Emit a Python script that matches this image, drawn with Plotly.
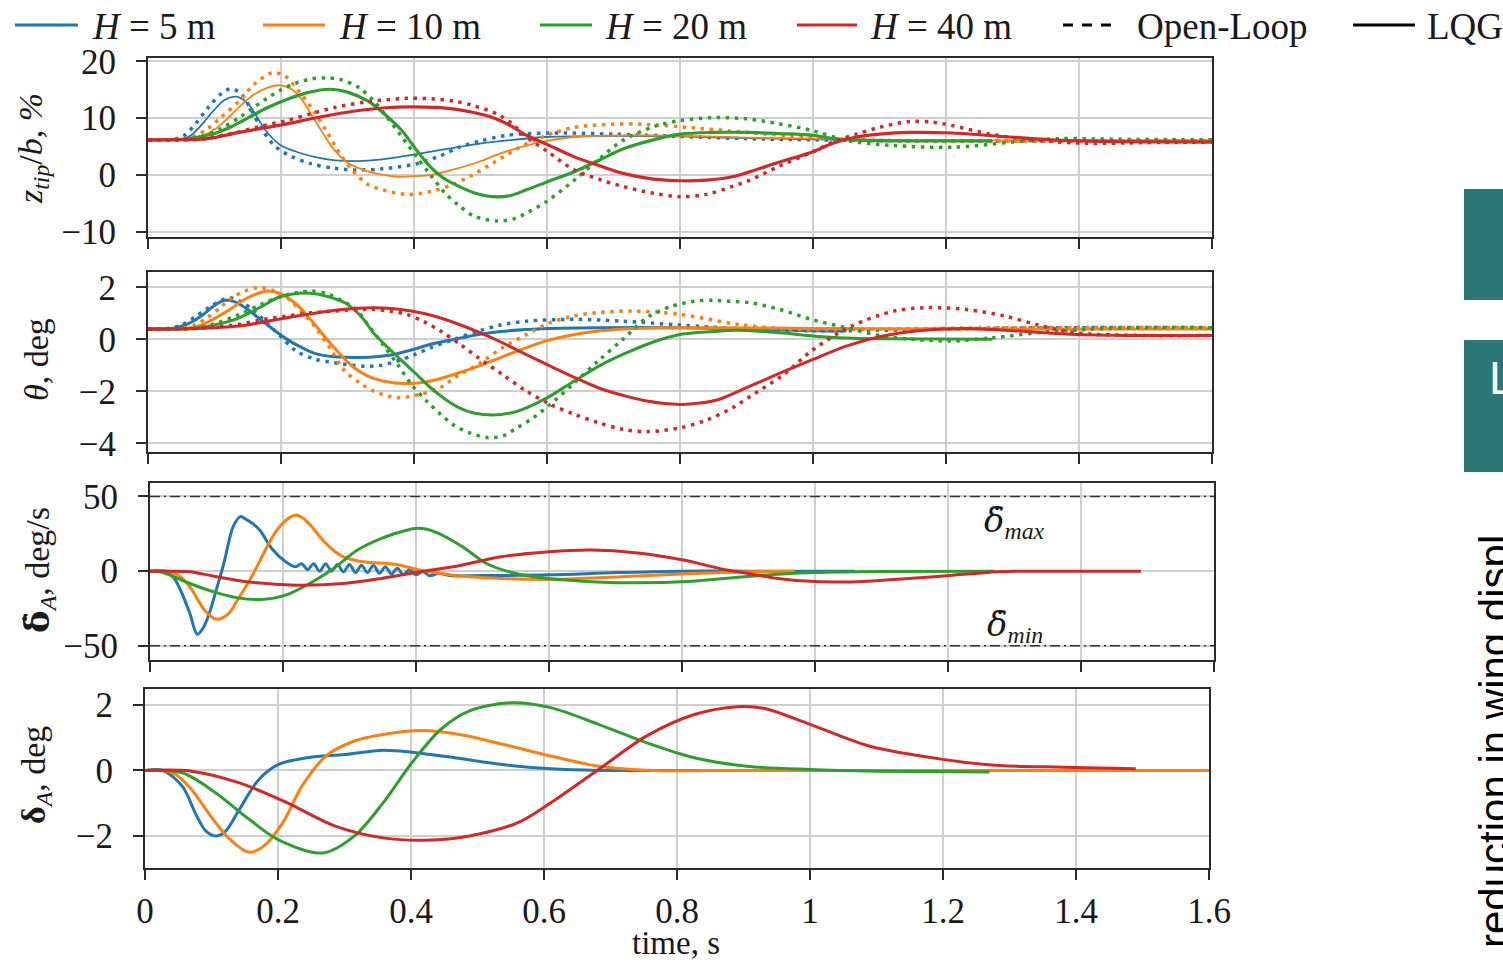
import plotly.graph_objects as go

W, H = 1503, 963

# ---------------- data ----------------
LABELS = ["H = 5 m", "H = 10 m", "H = 20 m", "H = 40 m"]
COLORS = ["#1f77b4", "#ff7f0e", "#2ca02c", "#d62728"]

# Panel 1: z_tip/b, %
T_Z5_LQG = [0, 0.04, 0.05, 0.065, 0.08, 0.1, 0.115, 0.133, 0.15, 0.166, 0.18, 0.2, 0.223, 0.25, 0.281, 0.324, 0.36, 0.404, 0.45, 0.497, 0.55, 0.598, 0.7, 0.8, 0.9, 1.0, 1.06]
Z5_LQG = [6.2, 6.2, 6.3, 7.0, 8.8, 11.5, 13.2, 13.8, 12.6, 9.8, 7.4, 5.2, 4.1, 3.2, 2.6, 2.5, 2.9, 3.7, 4.6, 5.5, 6.2, 6.7, 6.9, 6.8, 6.5, 6.3, 6.2]
T_Z5_OL = [0, 0.04, 0.055, 0.07, 0.09, 0.11, 0.125, 0.14, 0.155, 0.17, 0.19, 0.21, 0.245, 0.28, 0.31, 0.353, 0.404, 0.44, 0.468, 0.5, 0.54, 0.605, 0.7, 0.8, 0.9, 1.0, 1.2, 1.4, 1.6]
Z5_OL = [6.2, 6.3, 7.0, 8.8, 11.8, 14.3, 15.2, 14.3, 11.5, 8.3, 5.2, 3.6, 2.0, 1.2, 0.9, 1.1, 2.0, 3.4, 4.9, 6.0, 7.0, 7.4, 7.2, 6.8, 6.4, 6.2, 6.0, 6.0, 6.0]
T_Z10_LQG = [0, 0.06, 0.08, 0.1, 0.12, 0.14, 0.16, 0.18, 0.198, 0.215, 0.23, 0.25, 0.265, 0.281, 0.3, 0.324, 0.35, 0.375, 0.4, 0.425, 0.46, 0.497, 0.53, 0.569, 0.6, 0.641, 0.714, 0.8, 0.9, 1.0, 1.1, 1.3, 1.6]
Z10_LQG = [6.2, 6.3, 6.8, 8.0, 10.0, 12.3, 14.2, 15.4, 15.8, 15.2, 13.5, 9.8, 7.0, 4.3, 2.2, 0.9, 0.1, -0.3, -0.2, 0.0, 1.0, 2.3, 3.8, 5.2, 6.0, 6.7, 7.0, 6.9, 6.6, 6.4, 6.2, 6.1, 6.1]
T_Z10_OL = [0, 0.05, 0.07, 0.09, 0.11, 0.137, 0.16, 0.187, 0.205, 0.223, 0.245, 0.267, 0.29, 0.31, 0.33, 0.353, 0.389, 0.425, 0.455, 0.483, 0.52, 0.569, 0.6, 0.641, 0.714, 0.75, 0.8, 0.9, 1.0, 1.1, 1.2, 1.4, 1.6]
Z10_OL = [6.2, 6.3, 6.8, 8.2, 10.2, 13.0, 16.0, 18.0, 17.5, 15.3, 12.0, 8.0, 3.5, 0.5, -1.6, -2.6, -3.4, -2.9, -1.8, -0.3, 2.2, 5.5, 7.0, 8.4, 9.0, 8.9, 8.5, 7.5, 6.6, 6.1, 5.9, 6.0, 6.0]
T_Z20_LQG = [0, 0.05, 0.075, 0.1, 0.125, 0.151, 0.18, 0.209, 0.24, 0.274, 0.3, 0.331, 0.355, 0.382, 0.405, 0.425, 0.445, 0.468, 0.49, 0.519, 0.545, 0.569, 0.6, 0.641, 0.68, 0.714, 0.76, 0.8, 0.85, 0.905, 0.95, 1.0, 1.03, 1.08, 1.15, 1.27]
Z20_LQG = [6.2, 6.3, 6.7, 7.3, 8.5, 10.1, 11.9, 13.3, 14.5, 15.1, 14.6, 13.0, 10.8, 7.8, 4.2, 1.4, -0.6, -2.0, -3.1, -3.8, -3.6, -2.6, -1.2, 0.6, 2.7, 4.6, 6.2, 7.2, 7.5, 7.5, 7.3, 7.0, 6.4, 6.1, 6.0, 6.0]
T_Z20_OL = [0, 0.05, 0.08, 0.11, 0.137, 0.16, 0.18, 0.2, 0.223, 0.245, 0.267, 0.29, 0.317, 0.34, 0.36, 0.38, 0.404, 0.425, 0.447, 0.468, 0.49, 0.526, 0.55, 0.569, 0.6, 0.641, 0.68, 0.714, 0.76, 0.8, 0.85, 0.9, 0.95, 1.0, 1.05, 1.12, 1.21, 1.3, 1.37, 1.45, 1.6]
Z20_OL = [6.2, 6.3, 6.7, 8.2, 10.1, 12.0, 13.6, 15.0, 16.2, 16.9, 17.1, 16.8, 15.4, 13.0, 10.1, 7.0, 3.2, 0.0, -3.2, -5.4, -7.2, -8.1, -7.7, -6.7, -4.6, -0.9, 3.0, 6.1, 8.5, 9.6, 10.1, 9.9, 9.0, 7.8, 6.1, 5.2, 4.9, 5.8, 6.4, 6.3, 6.2]
T_Z40_LQG = [0, 0.08, 0.1, 0.137, 0.17, 0.209, 0.245, 0.281, 0.32, 0.353, 0.396, 0.43, 0.461, 0.49, 0.519, 0.545, 0.569, 0.6, 0.641, 0.68, 0.714, 0.76, 0.8, 0.84, 0.879, 0.905, 0.95, 1.0, 1.03, 1.065, 1.1, 1.144, 1.21, 1.295, 1.375, 1.45, 1.6]
Z40_LQG = [6.2, 6.3, 6.6, 7.5, 8.2, 9.0, 9.9, 10.7, 11.4, 11.8, 12.0, 11.9, 11.6, 11.0, 10.1, 8.7, 7.0, 5.4, 3.2, 1.6, 0.3, -0.7, -1.0, -0.9, -0.3, 0.6, 2.3, 4.1, 5.6, 6.7, 7.2, 7.5, 7.4, 6.7, 6.1, 5.9, 5.8]
T_Z40_OL = [0, 0.08, 0.1, 0.137, 0.17, 0.209, 0.245, 0.281, 0.33, 0.389, 0.43, 0.461, 0.49, 0.526, 0.55, 0.569, 0.6, 0.641, 0.68, 0.714, 0.76, 0.8, 0.84, 0.879, 0.905, 0.95, 1.0, 1.03, 1.065, 1.1, 1.144, 1.18, 1.21, 1.266, 1.339, 1.41, 1.5, 1.6]
Z40_OL = [6.2, 6.3, 6.7, 7.6, 8.6, 9.6, 10.8, 11.9, 12.9, 13.5, 13.4, 13.0, 12.2, 10.7, 8.8, 6.7, 4.2, 0.9, -0.8, -2.0, -3.2, -3.8, -3.4, -2.0, -0.9, 1.6, 4.1, 5.8, 7.2, 8.4, 9.4, 9.3, 8.7, 7.2, 6.1, 5.6, 5.7, 5.8]

# Panel 2: theta, deg
T_TH5_LQG = [0, 0.036, 0.06, 0.08, 0.1, 0.115, 0.13, 0.15, 0.166, 0.19, 0.209, 0.23, 0.252, 0.28, 0.317, 0.35, 0.375, 0.4, 0.425, 0.46, 0.497, 0.53, 0.569, 0.62, 0.677, 0.8, 0.9, 1.0, 1.05]
TH5_LQG = [0.4, 0.42, 0.6, 0.9, 1.3, 1.5, 1.45, 1.15, 0.83, 0.35, 0.0, -0.3, -0.55, -0.67, -0.7, -0.65, -0.55, -0.38, -0.19, 0.0, 0.19, 0.3, 0.38, 0.43, 0.45, 0.45, 0.4, 0.33, 0.32]
T_TH5_OL = [0, 0.03, 0.05, 0.07, 0.09, 0.11, 0.123, 0.14, 0.159, 0.18, 0.2, 0.223, 0.25, 0.281, 0.324, 0.35, 0.375, 0.4, 0.425, 0.46, 0.497, 0.53, 0.569, 0.641, 0.714, 0.8, 0.9, 1.0, 1.1, 1.2, 1.4, 1.6]
TH5_OL = [0.4, 0.42, 0.55, 0.85, 1.2, 1.5, 1.6, 1.45, 1.1, 0.6, 0.1, -0.45, -0.75, -0.9, -1.03, -1.0, -0.83, -0.6, -0.32, 0.0, 0.32, 0.55, 0.7, 0.77, 0.7, 0.55, 0.4, 0.33, 0.35, 0.4, 0.45, 0.45]
T_TH10_LQG = [0, 0.058, 0.08, 0.1, 0.123, 0.15, 0.18, 0.2, 0.223, 0.245, 0.267, 0.29, 0.31, 0.33, 0.353, 0.389, 0.425, 0.46, 0.497, 0.53, 0.569, 0.6, 0.641, 0.68, 0.728, 0.8, 1.0, 1.2, 1.6]
TH10_LQG = [0.4, 0.42, 0.55, 0.8, 1.15, 1.6, 1.86, 1.75, 1.35, 0.75, 0.06, -0.6, -1.09, -1.4, -1.6, -1.7, -1.6, -1.35, -1.03, -0.7, -0.32, -0.05, 0.19, 0.33, 0.42, 0.45, 0.42, 0.4, 0.4]
T_TH10_OL = [0, 0.05, 0.07, 0.09, 0.11, 0.123, 0.145, 0.166, 0.185, 0.209, 0.23, 0.252, 0.275, 0.296, 0.32, 0.339, 0.375, 0.411, 0.44, 0.461, 0.5, 0.533, 0.57, 0.605, 0.64, 0.677, 0.728, 0.8, 0.886, 0.95, 1.0, 1.1, 1.3, 1.6]
TH10_OL = [0.4, 0.42, 0.55, 0.85, 1.25, 1.54, 1.85, 1.99, 1.9, 1.6, 1.1, 0.45, -0.4, -1.22, -1.7, -1.99, -2.24, -2.1, -1.85, -1.47, -0.9, -0.32, 0.2, 0.64, 0.9, 1.03, 1.09, 0.96, 0.58, 0.42, 0.38, 0.4, 0.45, 0.45]
T_TH20_LQG = [0, 0.07, 0.1, 0.137, 0.17, 0.195, 0.22, 0.245, 0.27, 0.296, 0.32, 0.339, 0.36, 0.382, 0.404, 0.425, 0.447, 0.468, 0.49, 0.519, 0.545, 0.569, 0.6, 0.641, 0.68, 0.714, 0.76, 0.8, 0.85, 0.886, 0.95, 1.0, 1.05, 1.1, 1.27]
TH20_LQG = [0.4, 0.42, 0.55, 0.83, 1.25, 1.6, 1.75, 1.77, 1.65, 1.41, 0.9, 0.25, -0.3, -0.83, -1.35, -1.86, -2.3, -2.63, -2.83, -2.91, -2.83, -2.63, -2.25, -1.6, -1.0, -0.58, -0.1, 0.19, 0.3, 0.35, 0.25, 0.13, 0.05, 0.02, 0.0]
T_TH20_OL = [0, 0.07, 0.1, 0.137, 0.17, 0.2, 0.225, 0.245, 0.27, 0.29, 0.31, 0.33, 0.353, 0.375, 0.396, 0.42, 0.44, 0.46, 0.483, 0.512, 0.535, 0.555, 0.58, 0.605, 0.64, 0.677, 0.714, 0.75, 0.785, 0.822, 0.85, 0.872, 0.905, 0.95, 1.0, 1.05, 1.1, 1.15, 1.21, 1.27, 1.34, 1.41, 1.5, 1.6]
TH20_OL = [0.4, 0.42, 0.6, 0.95, 1.35, 1.65, 1.8, 1.86, 1.75, 1.5, 1.22, 0.6, -0.19, -0.95, -1.73, -2.4, -2.88, -3.3, -3.59, -3.78, -3.7, -3.4, -3.0, -2.5, -1.7, -0.83, 0.0, 0.83, 1.25, 1.47, 1.5, 1.47, 1.41, 1.15, 0.75, 0.45, 0.15, 0.0, -0.06, 0.06, 0.26, 0.38, 0.45, 0.45]
T_TH40_LQG = [0, 0.07, 0.1, 0.137, 0.17, 0.209, 0.245, 0.281, 0.31, 0.339, 0.37, 0.396, 0.43, 0.461, 0.5, 0.533, 0.57, 0.605, 0.64, 0.677, 0.714, 0.75, 0.8, 0.83, 0.858, 0.905, 0.95, 1.0, 1.05, 1.1, 1.158, 1.23, 1.31, 1.396, 1.5, 1.6]
TH40_LQG = [0.4, 0.42, 0.45, 0.51, 0.65, 0.83, 0.98, 1.12, 1.19, 1.22, 1.18, 1.09, 0.9, 0.64, 0.25, -0.13, -0.6, -1.03, -1.45, -1.86, -2.15, -2.37, -2.5, -2.45, -2.31, -1.8, -1.3, -0.77, -0.26, 0.1, 0.33, 0.42, 0.32, 0.19, 0.15, 0.15]
T_TH40_OL = [0, 0.07, 0.1, 0.137, 0.17, 0.209, 0.245, 0.281, 0.31, 0.339, 0.365, 0.389, 0.415, 0.44, 0.47, 0.497, 0.533, 0.569, 0.605, 0.641, 0.677, 0.714, 0.75, 0.8, 0.84, 0.879, 0.905, 0.956, 1.0, 1.057, 1.122, 1.173, 1.23, 1.288, 1.339, 1.396, 1.5, 1.6]
TH40_OL = [0.4, 0.42, 0.47, 0.58, 0.75, 0.9, 1.02, 1.09, 1.14, 1.15, 1.08, 0.96, 0.68, 0.32, -0.2, -0.71, -1.35, -1.99, -2.5, -2.88, -3.2, -3.46, -3.55, -3.4, -3.1, -2.63, -2.2, -1.35, -0.4, 0.5, 1.09, 1.22, 1.15, 0.9, 0.55, 0.25, 0.15, 0.15]

# Panel 3: aileron rate, deg/s (LQG only)
T_DR5 = [0, 0.02, 0.035, 0.046, 0.06, 0.071, 0.08, 0.089, 0.1, 0.111, 0.125, 0.136, 0.145, 0.154, 0.165, 0.183, 0.204, 0.219,
         0.228, 0.237, 0.246, 0.255, 0.264, 0.273, 0.282, 0.291, 0.3, 0.309, 0.318, 0.327, 0.336, 0.345, 0.354, 0.363, 0.372,
         0.381, 0.39, 0.4, 0.41, 0.42, 0.435, 0.45, 0.5, 0.6, 0.7, 0.8, 0.9, 1.06]
DR5 = [0, 0, -4, -12.8, -28.4, -42.3, -38, -28.4, -12, 5.1, 29.8, 36.5, 34.5, 32, 27.5, 15.2, 6.3, 2.9,
       5, 1, 5, 0, 5, 0, 4.5, -0.5, 4.5, -1, 4, -1, 4, -1.5, 3, -2, 2,
       -2.5, 1, -2.5, 0, -3, -1.5, -3, -3, -2.5, -1, 0, 0, 0]
T_DR10 = [0, 0.025, 0.04, 0.06, 0.082, 0.1, 0.118, 0.132, 0.147, 0.162, 0.176, 0.19, 0.205, 0.219, 0.23, 0.241, 0.262, 0.28, 0.291, 0.32, 0.37, 0.406, 0.456, 0.528, 0.6, 0.708, 0.816, 0.9, 0.97]
DR10 = [0, 0, -2, -10.5, -26.2, -32.2, -28.4, -19, -8.3, 4, 16.3, 27, 34.2, 37.6, 35.5, 30.9, 19.7, 12.5, 9.6, 6.3, 4.5, 0.7, -2.7, -4.9, -5.6, -3.8, -1.6, -0.5, 0]
T_DR20 = [0, 0.012, 0.024, 0.06, 0.096, 0.132, 0.168, 0.204, 0.24, 0.276, 0.312, 0.348, 0.375, 0.398, 0.415, 0.434, 0.47, 0.506, 0.55, 0.6, 0.672, 0.73, 0.816, 0.895, 0.95, 1.0, 1.1, 1.27]
DR20 = [0, -0.3, -1.6, -8.3, -13.9, -17.9, -19, -16.1, -8.3, 1.8, 14.1, 21.9, 26, 28.6, 28.2, 25.3, 16.3, 5.1, -1.6, -4.9, -7.2, -7.8, -6.7, -3.8, -2, -1, -0.3, 0]
T_DR40 = [0, 0.03, 0.06, 0.096, 0.147, 0.219, 0.291, 0.348, 0.406, 0.456, 0.528, 0.6, 0.665, 0.73, 0.802, 0.867, 0.9, 0.944, 1.0, 1.05, 1.08, 1.19, 1.276, 1.35, 1.49]
DR40 = [0, 0, -0.4, -3.4, -7.2, -9.4, -8.3, -4.9, -0.4, 2.9, 9.6, 13, 14.1, 12.3, 7.4, 0.7, -1.6, -4.9, -7.0, -7.2, -6.7, -3.4, -0.4, 0, 0]

# Panel 4: aileron deflection, deg (LQG only)
T_DA5 = [0, 0.027, 0.056, 0.078, 0.092, 0.108, 0.121, 0.142, 0.171, 0.2, 0.243, 0.301, 0.358, 0.401, 0.466, 0.538, 0.61, 0.682, 0.8, 1.06]
DA5 = [0, 0, -0.48, -1.4, -1.86, -2.0, -1.86, -1.19, -0.28, 0.18, 0.39, 0.49, 0.62, 0.56, 0.39, 0.18, 0.05, 0, 0, 0]
T_DA10 = [0, 0.042, 0.07, 0.099, 0.128, 0.157, 0.178, 0.207, 0.236, 0.272, 0.315, 0.358, 0.416, 0.473, 0.538, 0.61, 0.682, 0.754, 0.9, 1.2, 1.6]
DA10 = [0, -0.07, -0.58, -1.4, -2.11, -2.5, -2.32, -1.6, -0.48, 0.44, 0.9, 1.1, 1.22, 1.1, 0.8, 0.44, 0.13, 0.01, 0, 0, 0]
T_DA20 = [0, 0.056, 0.106, 0.157, 0.2, 0.268, 0.315, 0.358, 0.401, 0.445, 0.488, 0.552, 0.61, 0.682, 0.754, 0.826, 0.905, 1.0, 1.1, 1.27]
DA20 = [0, -0.07, -0.68, -1.5, -2.11, -2.52, -2.0, -0.99, 0.23, 1.26, 1.82, 2.07, 1.92, 1.41, 0.85, 0.39, 0.13, 0.03, -0.02, -0.05]
T_DA40 = [0, 0.07, 0.142, 0.214, 0.286, 0.358, 0.423, 0.488, 0.56, 0.61, 0.682, 0.754, 0.826, 0.891, 0.93, 1.0, 1.09, 1.2, 1.285, 1.38, 1.49]
DA40 = [0, -0.02, -0.38, -0.99, -1.7, -2.06, -2.13, -2.0, -1.6, -0.99, 0.03, 1.05, 1.71, 1.95, 1.9, 1.41, 0.74, 0.34, 0.15, 0.1, 0.05]

X_TICKS = [0, 0.2, 0.4, 0.6, 0.8, 1.0, 1.2, 1.4, 1.6]
X_TICKTEXT = ["0", "0.2", "0.4", "0.6", "0.8", "1", "1.2", "1.4", "1.6"]
Y1_TICKS, Y1_TEXT = [-10, 0, 10, 20], ["\u221210", "0", "10", "20"]
Y2_TICKS, Y2_TEXT = [-4, -2, 0, 2], ["\u22124", "\u22122", "0", "2"]
Y3_TICKS, Y3_TEXT = [-50, 0, 50], ["\u221250", "0", "50"]
Y4_TICKS, Y4_TEXT = [-2, 0, 2], ["\u22122", "0", "2"]
RATE_LIMITS = [50, -50]

# ---------------- figure ----------------
SERIF = "Liberation Serif, Times New Roman, serif"
SANS = "Liberation Sans, Arial, sans-serif"
INK = "#1a1a1a"


def px(xp):
    return xp / W


def py(yp):
    return 1 - yp / H


fig = go.Figure()

DOT = "3.5px,5.5px"


def add_line(t, v, color, axis, width=3.0, dash="solid"):
    xa, ya = axis
    fig.add_trace(go.Scatter(
        x=t, y=v, mode="lines", xaxis=xa, yaxis=ya, showlegend=False,
        line=dict(color=color, width=width, dash=dash, shape="spline", smoothing=0.9),
        hoverinfo="skip"))


p1 = [(T_Z5_OL, Z5_OL, T_Z5_LQG, Z5_LQG), (T_Z10_OL, Z10_OL, T_Z10_LQG, Z10_LQG),
      (T_Z20_OL, Z20_OL, T_Z20_LQG, Z20_LQG), (T_Z40_OL, Z40_OL, T_Z40_LQG, Z40_LQG)]
p2 = [(T_TH5_OL, TH5_OL, T_TH5_LQG, TH5_LQG), (T_TH10_OL, TH10_OL, T_TH10_LQG, TH10_LQG),
      (T_TH20_OL, TH20_OL, T_TH20_LQG, TH20_LQG), (T_TH40_OL, TH40_OL, T_TH40_LQG, TH40_LQG)]
p3 = [(T_DR5, DR5), (T_DR10, DR10), (T_DR20, DR20), (T_DR40, DR40)]
p4 = [(T_DA5, DA5), (T_DA10, DA10), (T_DA20, DA20), (T_DA40, DA40)]
W1 = [1.8, 1.8, 3.2, 3.2]

for i, (to, vo, tl, vl) in enumerate(p1):
    add_line(to, vo, COLORS[i], ("x", "y"), width=3.5, dash=DOT)
    add_line(tl, vl, COLORS[i], ("x", "y"), width=W1[i])
for i, (to, vo, tl, vl) in enumerate(p2):
    add_line(to, vo, COLORS[i], ("x2", "y2"), width=3.5, dash=DOT)
    add_line(tl, vl, COLORS[i], ("x2", "y2"), width=3.0)
for i, (t, v) in enumerate(p3):
    add_line(t, v, COLORS[i], ("x3", "y3"), width=3.0)
for i, (t, v) in enumerate(p4):
    add_line(t, v, COLORS[i], ("x4", "y4"), width=3.0)

# rate limit lines
for lim in RATE_LIMITS:
    fig.add_shape(type="line", xref="x3 domain", yref="y3", x0=0, x1=1, y0=lim, y1=lim,
                  line=dict(color="#333333", width=1.6, dash="10px,4px,2px,4px"))

axis_common = dict(
    showline=True, mirror=True, linecolor="#2b2b2b", linewidth=2,
    showgrid=True, gridcolor="#cfcfcf", gridwidth=1.5, zeroline=False,
    ticks="outside", ticklen=10, tickwidth=2, tickcolor="#2b2b2b",
    tickfont=dict(family=SERIF, size=35, color=INK), automargin=False,
)

panels = [
    # (x domain px, y domain px, yrange, yticks, ytext)
    ((148, 1212), (58, 237), [-10.9, 20.6], Y1_TICKS, Y1_TEXT),
    ((148, 1212), (272, 452), [-4.33, 2.59], Y2_TICKS, Y2_TEXT),
    ((150, 1214), (483, 660), [-59.5, 59.0], Y3_TICKS, Y3_TEXT),
    ((145, 1209), (689, 868), [-2.98, 2.49], Y4_TICKS, Y4_TEXT),
]

layout = dict(
    width=W, height=H, margin=dict(l=0, r=0, t=0, b=0, autoexpand=False),
    paper_bgcolor="white", plot_bgcolor="white", showlegend=False,
    font=dict(family=SERIF, color=INK),
)
for k, (xd, yd, yr, ytv, ytt) in enumerate(panels):
    sfx = "" if k == 0 else str(k + 1)
    layout["xaxis" + sfx] = dict(
        axis_common, domain=[px(xd[0]), px(xd[1])], range=[0, 1.6],
        tickvals=X_TICKS, ticktext=X_TICKTEXT, showticklabels=(k == 3),
        anchor="y" + sfx, ticklabelstandoff=1)
    layout["yaxis" + sfx] = dict(
        axis_common, domain=[py(yd[1]), py(yd[0])], range=yr,
        tickvals=ytv, ticktext=ytt, anchor="x" + sfx, ticklabelstandoff=13)
fig.update_layout(**layout)

DV = "<span style='font-family:DejaVu Serif'>"
ann = []
# y titles
ytitles = [
    ("<i>z<sub>tip</sub></i>/<i>b</i>, <i>%</i>", 33, 149),
    ("<i>θ</i>, deg", 36, 360),
    (DV + "<b>δ\u0307</b></span><sub><i>A</i></sub>, deg/s", 39, 570),
    ("<b>δ</b><sub><i>A</i></sub>, deg", 36, 775),
]
for txt, xp_, yp_ in ytitles:
    ann.append(dict(text=txt, x=px(xp_), y=py(yp_), xref="paper", yref="paper",
                    textangle=-90, showarrow=False, xanchor="center", yanchor="middle",
                    font=dict(family=SERIF, size=34, color=INK)))
ann.append(dict(text="time, s", x=px(676), y=py(943), xref="paper", yref="paper",
                showarrow=False, xanchor="center", yanchor="middle",
                font=dict(family=SERIF, size=33, color=INK)))
# rate limit labels
ann.append(dict(text=DV + "<i>δ\u0307</i></span><sub><i>max</i></sub>", x=1.30, y=33, xref="x3", yref="y3",
                showarrow=False, font=dict(family=SERIF, size=34, color=INK)))
ann.append(dict(text=DV + "<i>δ\u0307</i></span><sub><i>min</i></sub>", x=1.30, y=-37, xref="x3", yref="y3",
                showarrow=False, font=dict(family=SERIF, size=34, color=INK)))

# manual legend (top row)
LEG_Y = 25
leg_items = [
    (15, 78, 90, "<i>H</i> = 5 m", COLORS[0], "solid"),
    (263, 325, 337, "<i>H</i> = 10 m", COLORS[1], "solid"),
    (540, 592, 603, "<i>H</i> = 20 m", COLORS[2], "solid"),
    (797, 857, 868, "<i>H</i> = 40 m", COLORS[3], "solid"),
    (1063, 1118, 1135, "Open-Loop", "#000000", "10px,9px"),
    (1353, 1415, 1425, "LQG", "#000000", "solid"),
]
for x0, x1, xt, txt, col, dsh in leg_items:
    fig.add_shape(type="line", xref="paper", yref="paper", x0=px(x0), x1=px(x1),
                  y0=py(LEG_Y), y1=py(LEG_Y), line=dict(color=col, width=3.2, dash=dsh))
    ann.append(dict(text=txt, x=px(xt), y=py(LEG_Y + 1), xref="paper", yref="paper",
                    showarrow=False, xanchor="left", yanchor="middle",
                    font=dict(family=SERIF, size=37, color=INK)))

# cropped slide elements at the right edge
TEAL = "#2b7776"
for y0, y1 in [(189, 300), (340, 472)]:
    fig.add_shape(type="rect", xref="paper", yref="paper", x0=px(1464), x1=1.02,
                  y0=py(y1), y1=py(y0), line=dict(width=0), fillcolor=TEAL, layer="above")
ann.append(dict(text="L", x=px(1487), y=py(378), xref="paper", yref="paper",
                showarrow=False, xanchor="left", yanchor="middle",
                font=dict(family=SANS, size=46, color="white")))
ann.append(dict(text="reduction in wing displ", x=px(1494), y=py(742), xref="paper", yref="paper",
                textangle=-90, showarrow=False, xanchor="center", yanchor="middle",
                font=dict(family=SANS, size=42, color="black")))

fig.update_layout(annotations=ann)
fig.write_html("out.html", config={"displayModeBar": False},
               post_script="document.body.style.margin='0';document.body.style.overflow='hidden';")
